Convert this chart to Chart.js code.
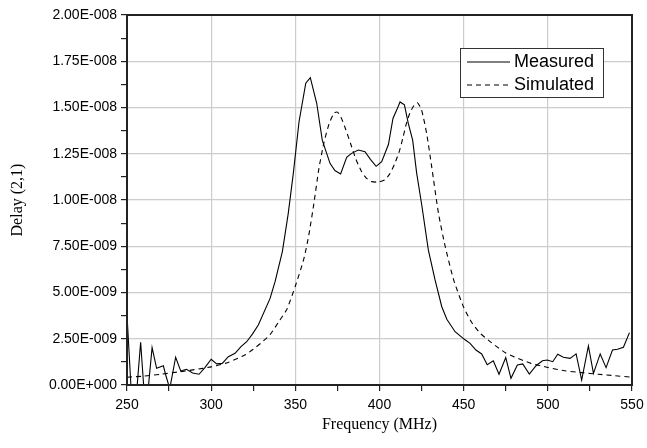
<!DOCTYPE html>
<html>
<head>
<meta charset="utf-8">
<script src="https://cdn.jsdelivr.net/npm/chart.js@4.4.1/dist/chart.umd.min.js"></script>
<style>
  html, body { margin: 0; padding: 0; background: #fff; }
  #wrap { width: 647px; height: 448px; }
</style>
</head>
<body>
<div id="wrap"><canvas id="grafica"></canvas></div>
<script>
//Datos (retardo en unidades de 1E-009 s)
const medidoFrecuencia = [250, 252.5, 255.8, 258.1, 260.1, 262.5, 264.9, 267.6, 271.6, 273, 275.4, 278.9, 281.9, 285.3, 289, 292.8, 296.4,
    300, 303.3, 306.6, 310.2, 314.2, 317.7, 321.1, 324.5, 328, 335, 338, 342.3, 345.8, 348.8, 352.2, 356.2, 358.9, 362.7, 366,
    370.6, 373.5, 376.9, 380.5, 383.4, 387.4, 391.4, 394.6, 398, 401.3, 405.3, 408, 410.2, 412.2, 414.8, 417.1, 419.7, 422.1,
    425.1, 429, 433, 437, 440, 444.9, 450.4, 453.8, 457.3, 460.7, 464, 467.6, 471, 475, 478.1, 481.9, 485.1, 489, 493, 496.8,
    499.7, 502.9, 505.9, 509.2, 513.2, 516.8, 520.1, 524.1, 527.1, 531.1, 534.6, 538.4, 541.4, 544.9, 548.5];
const medidoRetardo = [3.78, -0.3, -0.3, 2.31, -0.3, -0.3, 2.02, 0.90, 1.04, 0.54, -0.2, 1.50, 0.76, 0.85, 0.65, 0.58, 0.95,
    1.39, 1.14, 1.17, 1.53, 1.71, 2.07, 2.34, 2.75, 3.24, 4.68, 5.6, 7.21, 9.28, 11.44, 14.23, 16.31, 16.61, 15.23, 13.24,
    11.98, 11.59, 11.41, 12.31, 12.52, 12.70, 12.61, 12.2, 11.82, 12.07, 13.0, 14.41, 14.86, 15.30, 15.14, 14.14, 13.24, 11.44,
    9.73, 7.30, 5.68, 4.23, 3.55, 2.88, 2.47, 2.25, 1.89, 1.68, 1.10, 1.31, 0.58, 1.48, 0.36, 1.08, 1.14, 0.59, 1.04, 1.31,
    1.35, 1.26, 1.66, 1.50, 1.44, 1.68, 0.27, 2.11, 0.63, 1.68, 0.94, 1.89, 1.93, 2.04, 2.83];

const simuladoFrecuencia = [250, 260, 270, 280, 290, 300, 310, 320, 325, 330, 335, 340, 345, 350, 355, 358, 361, 364, 367, 370,
    373, 375, 377, 380, 383, 386, 389, 392, 395, 399, 403, 406, 409, 412, 414, 416, 418, 420, 422.5, 425, 428, 431, 435, 439,
    444, 450, 455, 460, 465, 470, 475, 480, 490, 500, 510, 520, 530, 540, 550];
const simuladoRetardo = [0.42, 0.48, 0.58, 0.70, 0.83, 0.98, 1.22, 1.62, 1.93, 2.30, 2.72, 3.40, 4.10, 5.35, 6.80, 8.1, 9.8, 11.7,
    13.1, 14.1, 14.7, 14.75, 14.5, 13.8, 13.0, 12.2, 11.6, 11.2, 11.0, 10.97, 11.08, 11.4, 11.95, 12.7, 13.4, 14.14, 14.7, 15.04,
    15.26, 14.86, 13.6, 11.8, 9.3, 7.5, 5.7, 4.2, 3.35, 2.78, 2.40, 2.05, 1.73, 1.52, 1.17, 0.95, 0.77, 0.67, 0.58, 0.50, 0.42];

const etiquetasSeries = ['Measured', 'Simulated'];

//Formato tipo Origin: 2.00E-008
function formatoExp(valorNs) {
    const v = valorNs * 1e-9;
    if (Math.abs(v) < 1e-20) return '0.00E+000';
    const exp = Math.floor(Math.log10(Math.abs(v)) + 1e-9);
    const mant = v / Math.pow(10, exp);
    const signo = exp < 0 ? '-' : '+';
    return mant.toFixed(2) + 'E' + signo + String(Math.abs(exp)).padStart(3, '0');
}

function pares(xs, ys) {
    return xs.map((x, i) => ({ x: x, y: ys[i] }));
}

//Marco y leyenda dibujados a mano
const marcoLeyenda = {
    id: 'marcoLeyenda',
    afterDatasetsDraw(chart) {
        const { ctx, chartArea: a } = chart;
        ctx.save();
        ctx.strokeStyle = '#222';
        ctx.lineWidth = 2;
        ctx.strokeRect(a.left, a.top, a.right - a.left, a.bottom - a.top);

        const bx = a.right - 172, by = a.top + 33, bw = 143, bh = 49;
        ctx.fillStyle = '#fff';
        ctx.fillRect(bx, by, bw, bh);
        ctx.lineWidth = 1;
        ctx.strokeStyle = '#333';
        ctx.strokeRect(bx + 0.5, by + 0.5, bw, bh);

        ctx.font = '18px "Liberation Sans", Arial, sans-serif';
        ctx.textBaseline = 'middle';
        ctx.fillStyle = '#000';
        chart.data.datasets.forEach((ds, i) => {
            const y = by + 14 + i * 23;
            ctx.beginPath();
            ctx.setLineDash(ds.borderDash || []);
            ctx.strokeStyle = '#000';
            ctx.lineWidth = 1.2;
            ctx.moveTo(bx + 7, y);
            ctx.lineTo(bx + 50, y);
            ctx.stroke();
            ctx.setLineDash([]);
            ctx.fillText(ds.label, bx + 54, y);
        });
        ctx.restore();
    }
};

document.addEventListener('DOMContentLoaded', function() {
    const ctx = document.getElementById('grafica').getContext('2d');
    new Chart(ctx, {
        type: 'line',
        data: {
            datasets: [{
                label: etiquetasSeries[0],
                data: pares(medidoFrecuencia, medidoRetardo),
                borderColor: '#000',
                borderWidth: 1.1,
                pointRadius: 0,
                tension: 0,
                fill: false
            }, {
                label: etiquetasSeries[1],
                data: pares(simuladoFrecuencia, simuladoRetardo),
                borderColor: '#000',
                borderWidth: 1.1,
                borderDash: [5, 4],
                pointRadius: 0,
                tension: 0.2,
                fill: false
            }]
        },
        options: {
            responsive: true,
            maintainAspectRatio: false,
            animation: false,
            layout: { padding: { left: 8, right: 15, top: 15, bottom: 4 } },
            plugins: {
                legend: { display: false },
                tooltip: { enabled: false }
            },
            scales: {
                x: {
                    type: 'linear',
                    min: 250,
                    max: 550,
                    afterFit: s => { s.height = 59; s.paddingLeft = 0; s.paddingRight = 0; },
                    ticks: {
                        stepSize: 25,
                        autoSkip: false,
                        maxRotation: 0,
                        padding: 6,
                        color: '#000',
                        font: { family: '"Liberation Sans", Arial, sans-serif', size: 14 },
                        callback: v => (v % 50 === 0 ? String(v) : '')
                    },
                    grid: {
                        color: c => (c.tick && c.tick.value % 50 === 0 ? '#cccccc' : 'rgba(0,0,0,0)'),
                        tickColor: '#222',
                        tickLength: 6,
                        lineWidth: 1.2
                    },
                    border: { display: false },
                    title: {
                        display: true,
                        text: 'Frequency (MHz)',
                        color: '#000',
                        font: { family: '"Liberation Serif", "Times New Roman", serif', size: 16 },
                        padding: { top: 4, bottom: 10 }
                    }
                },
                y: {
                    min: 0,
                    max: 20,
                    afterFit: s => { s.width = 119; },
                    ticks: {
                        stepSize: 1.25,
                        autoSkip: false,
                        padding: 4,
                        color: '#000',
                        font: { family: '"Liberation Sans", Arial, sans-serif', size: 14 },
                        callback: (v, i) => (i % 2 === 0 ? formatoExp(v) : '')
                    },
                    grid: {
                        color: c => (c.index % 2 === 0 ? '#cccccc' : 'rgba(0,0,0,0)'),
                        tickColor: '#222',
                        tickLength: 6,
                        lineWidth: 1.2
                    },
                    border: { display: false },
                    title: {
                        display: true,
                        text: 'Delay (2,1)',
                        color: '#000',
                        font: { family: '"Liberation Serif", "Times New Roman", serif', size: 16 },
                        padding: { top: 0, bottom: 8 }
                    }
                }
            }
        },
        plugins: [marcoLeyenda]
    });
});
</script>
</body>
</html>
